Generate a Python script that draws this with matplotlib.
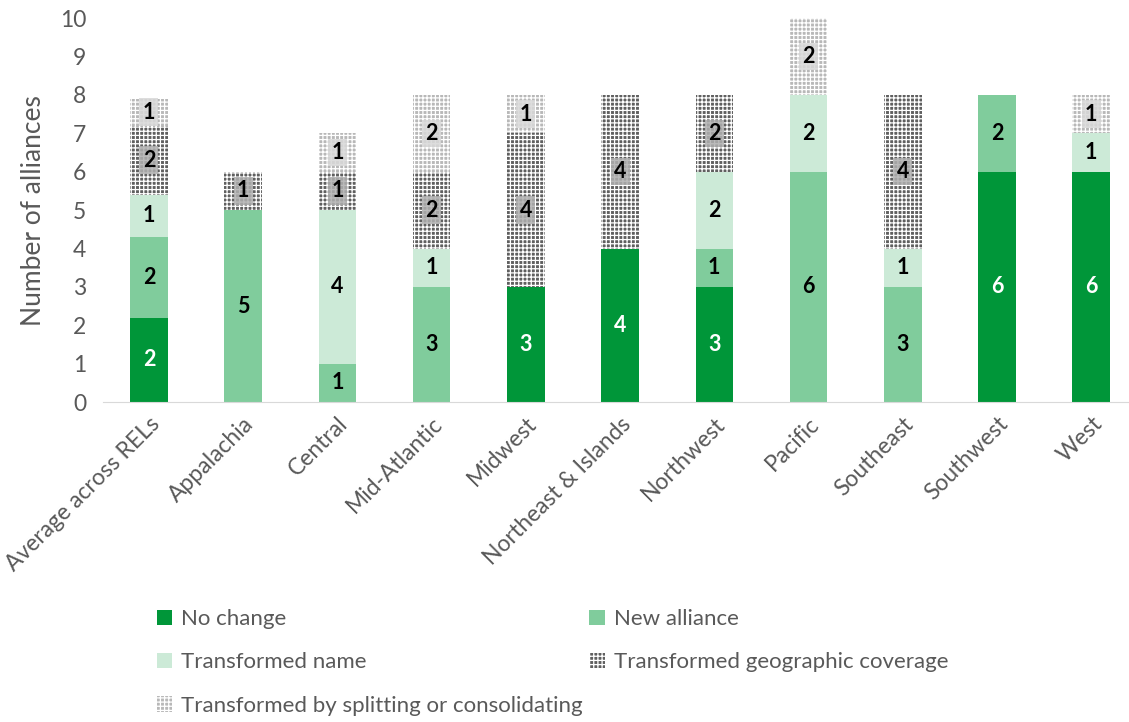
import numpy as np
import matplotlib.pyplot as plt
from matplotlib.patches import Patch

plt.rcParams['font.family'] = ['Lato', 'DejaVu Sans']
plt.rcParams['hatch.linewidth'] = 0.9

regions = ["Average across RELs", "Appalachia", "Central", "Mid-Atlantic", "Midwest",
           "Northeast & Islands", "Northwest", "Pacific", "Southeast", "Southwest", "West"]

no_change = [2.2, 0, 0, 0, 3, 4, 3, 0, 0, 6, 6]
new_alliance = [2.1, 5, 1, 3, 0, 0, 1, 6, 3, 2, 0]
trans_name = [1.1, 0, 4, 1, 0, 0, 2, 2, 1, 0, 1]
trans_geo = [1.8, 1, 1, 2, 4, 4, 2, 0, 4, 0, 0]
trans_split = [0.7, 0, 1, 2, 1, 0, 0, 2, 0, 0, 1]

series = [
    ("No change", no_change, "#009639", None, "white", None),
    ("New alliance", new_alliance, "#80cc9c", None, "black", None),
    ("Transformed name", trans_name, "#ccead7", None, "black", None),
    ("Transformed geographic coverage", trans_geo, "#5f5f5f", "++++", "black", "#b0b0b0"),
    ("Transformed by splitting or consolidating", trans_split, "#b8b8b8", "++++", "black", "#d8d8d8"),
]

fig = plt.figure(figsize=(11.29, 7.22), dpi=100)
ax = fig.add_axes([0.091, 0.443, 0.909, 0.532])

x = np.arange(len(regions))
bottom = np.zeros(len(regions))
handles = []
for name, vals, color, hatch, tcolor, boxc in series:
    vals = np.array(vals, dtype=float)
    if hatch:
        bars = ax.bar(x, vals, 0.4, bottom=bottom, color=color, hatch=hatch,
                      edgecolor="white", linewidth=0)
    else:
        bars = ax.bar(x, vals, 0.4, bottom=bottom, color=color, linewidth=0)
    for xi, b, v in zip(x, bottom, vals):
        if v > 0:
            kw = {}
            if boxc:
                kw["bbox"] = dict(boxstyle="square,pad=0.15", facecolor=boxc,
                                  edgecolor="none", alpha=0.85)
            ax.text(xi, b + v / 2, f"{round(v):d}", ha="center", va="center",
                    fontsize=15.5, fontweight="bold", color=tcolor, **kw)
    bottom += vals
    handles.append(Patch(facecolor=color, hatch=hatch, edgecolor="white" if hatch else color,
                         linewidth=0, label=name))

ax.set_ylim(0, 10)
ax.set_xlim(-0.49, 10.4)
ax.set_yticks(range(0, 11))
ax.set_xticks(x)
ax.set_xticklabels(regions, rotation=45, ha="right", rotation_mode="anchor")
ax.tick_params(axis="both", length=0, labelsize=16.5, colors="#595959")
ax.tick_params(axis="x", pad=8)
ax.tick_params(axis="y", pad=12)
ax.set_ylabel("Number of alliances", fontsize=19, color="#595959", labelpad=10)
for s in ["top", "right", "left"]:
    ax.spines[s].set_visible(False)
ax.spines["bottom"].set_color("#d9d9d9")

order = [0, 2, 4, 1, 3]
fig.legend([handles[i] for i in order], [handles[i].get_label() for i in order],
           ncol=2, loc="upper left", bbox_to_anchor=(0.121, 0.184), frameon=False,
           fontsize=16, labelcolor="#595959", handlelength=0.7, handleheight=0.7,
           handletextpad=0.4, columnspacing=0.3, labelspacing=1.05)

plt.savefig("out.png", dpi=100)
